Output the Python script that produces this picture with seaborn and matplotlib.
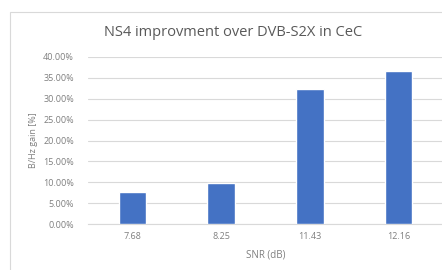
import numpy as np
import pandas as pd
import matplotlib.pyplot as plt
import matplotlib.ticker as mticker
from matplotlib.patches import Rectangle
import seaborn as sns

snr_labels = ["7.68", "8.25", "11.43", "12.16"]
gain_pct = [7.6, 9.9, 32.3, 36.6]
y_ticks = [0, 5, 10, 15, 20, 25, 30, 35, 40]

sns.set_theme(style="white")
plt.rcParams['font.family'] = ['Open Sans', 'DejaVu Sans']

df = pd.DataFrame({"SNR": snr_labels, "gain": gain_pct})

fig = plt.figure(figsize=(4.42, 2.70), dpi=100)
ax = fig.add_axes([88 / 442, 1 - 224 / 270, (443 - 88) / 442, (224 - 57) / 270])

# chart area border
fig.patches.append(Rectangle((10 / 442, -0.01), 1.0, 1 - 12 / 270 + 0.01,
                             transform=fig.transFigure, fill=False,
                             edgecolor='#d9d9d9', linewidth=0.8))

sns.barplot(data=df, x="SNR", y="gain", color='#4472C4', width=0.31,
            saturation=1, ax=ax, zorder=3)

ax.set_ylim(0, 40)
ax.set_yticks(y_ticks)
ax.yaxis.set_major_formatter(mticker.FuncFormatter(lambda v, p: f"{v:.2f}%"))
ax.grid(axis='y', color='#d9d9d9', linewidth=0.8, zorder=0)
for s in ['top', 'right', 'left']:
    ax.spines[s].set_visible(False)
ax.spines['bottom'].set_color('#d9d9d9')
ax.spines['bottom'].set_linewidth(0.8)
ax.tick_params(axis='both', length=0, labelsize=6.5, colors='#7f7f7f', pad=6)
ax.tick_params(axis='y', pad=10)

ax.set_xlabel("SNR (dB)", fontsize=7, color='#7f7f7f', labelpad=6)
ax.set_ylabel("B/Hz gain [%]", fontsize=6.5, color='#7f7f7f', labelpad=4)

fig.text(233 / 442, 1 - 33 / 270, "NS4 improvment over DVB-S2X in CeC",
         ha='center', va='center', fontsize=10.5, color='#595959')

fig.savefig("out.png", dpi=100)
